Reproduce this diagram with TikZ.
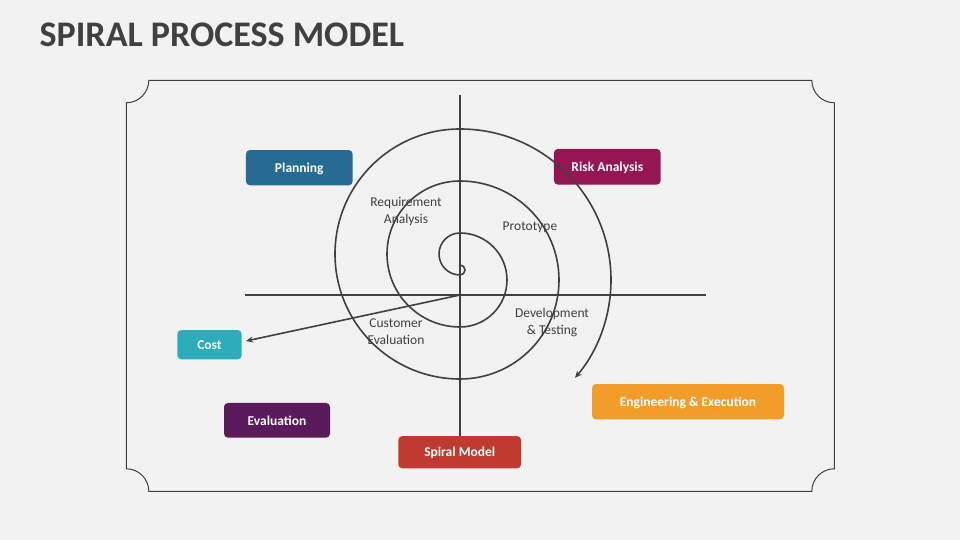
\documentclass[tikz,border=0pt]{standalone}
\usepackage{fontspec}
\setmainfont{Carlito}
\usetikzlibrary{arrows.meta,calc}
\definecolor{bg}{HTML}{F2F2F2}
\definecolor{dark}{HTML}{404040}
\definecolor{cplan}{HTML}{256B92}
\definecolor{crisk}{HTML}{951652}
\definecolor{ccost}{HTML}{2DADBA}
\definecolor{ceval}{HTML}{5B1A5B}
\definecolor{cspir}{HTML}{C03A30}
\definecolor{ceng}{HTML}{F29D2A}
\begin{document}
\begin{tikzpicture}[x=1pt,y=1pt,
  box/.style={draw=none,rounded corners=4pt,text=white,font=\bfseries\fontsize{13.5}{16}\selectfont,inner sep=0pt,text height=10pt,text depth=0.5pt,minimum height=35pt},
  lbl/.style={text=dark,font=\fontsize{13.5}{17}\selectfont,align=center},
  ln/.style={draw=dark,line width=1.6pt},
  tipped/.style={-{Stealth[length=7pt,width=6pt]}},
  framestyle/.style={draw=dark,line width=1pt}]
\fill[bg] (0,0) rectangle (960,540);
\useasboundingbox (0,0) rectangle (960,540);
% title
\node[anchor=base west,inner sep=0pt,text=dark,font=\bfseries\fontsize{36}{40}\selectfont] (title) at (39.5,493.3) {SPIRAL PROCESS MODEL};
% frame
\draw[framestyle] (148.8,459.7) -- (811.8,459.7) arc(180:270:22.5) -- (834.3,71.2) arc(90:180:22.5) -- (148.8,48.7) arc(0:90:22.5) -- (126.3,437.2) arc(270:360:22.5) -- cycle;
% boxes
\node[box,fill=cplan,minimum width=106.7pt,minimum height=35.3pt] (plan) at (299.3,372.3) {Planning};
\node[box,fill=crisk,minimum width=106.7pt,minimum height=35.7pt] (risk) at (607.3,373.2) {Risk Analysis};
\node[box,fill=ccost,minimum width=64.4pt,minimum height=29.3pt] (cost) at (209.5,195.3) {Cost};
\node[box,fill=ceval,minimum width=106pt,minimum height=34.7pt] (eval) at (277,119.7) {Evaluation};
\node[box,fill=cspir,minimum width=122.7pt,minimum height=32.3pt] (spiral) at (459.7,87.8) {Spiral Model};
\node[box,fill=ceng,minimum width=192pt,minimum height=35.3pt] (eng) at (688,138.3) {Engineering \& Execution};
% axes
\coordinate (vtop) at (460,445);
\coordinate (hleft) at (245,245);
\coordinate (hright) at (706,245);
\coordinate (origin) at (460,245);
\coordinate (costtip) at (246,199);
\draw[ln] (vtop) -- (vtop |- spiral.north);
\draw[ln] (hleft) -- (hright);
% spiral
\draw[ln,tipped] (460,275) arc(90:-90:5) arc(270:90:21) arc(90:-90:47) arc(270:90:73) arc(90:-90:99) arc(270:90:125) arc(90:-40.4:151);
% cost arrow
\draw[ln,tipped] (origin) -- (costtip);
% labels
\node[lbl] (req) at (406,329) {Requirement\\Analysis};
\node[lbl] (proto) at (530,312.3) {Prototype};
\node[lbl] (dev) at (552,217.5) {Development\\\& Testing};
\node[lbl] (cust) at (396,208.5) {Customer\\Evaluation};
\end{tikzpicture}
\end{document}
